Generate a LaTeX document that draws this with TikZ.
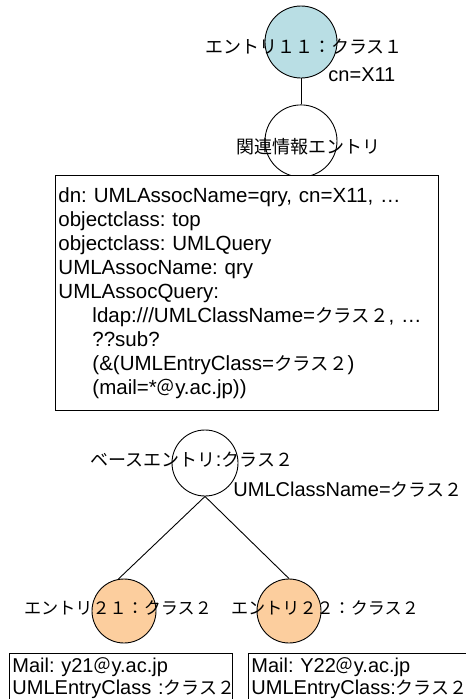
\documentclass[tikz,border=0pt]{standalone}
\usepackage{fontspec}
\setmainfont{Liberation Sans}
\newfontfamily\jp[Scale=0.9]{Noto Sans CJK JP}
\usetikzlibrary{positioning}
\definecolor{tealentry}{RGB}{185,222,228}
\definecolor{orangeentry}{RGB}{252,206,158}
\frenchspacing

\begin{document}
\begin{tikzpicture}[x=1pt, y=-1pt, line width=0.9pt,
      entry/.style={circle, draw, minimum size=72pt, inner sep=0pt},
      tag/.style={inner sep=0pt, font=\fontsize{20}{24}\selectfont},
      attrbox/.style={draw, fill=white, align=left, anchor=north west,
                      inner xsep=3pt, font=\fontsize{20.5}{24}\selectfont}]
    \useasboundingbox (0,0) rectangle (466,699);
    \clip (0,0) rectangle (466,699);

    % entries
    \node[entry, fill=tealentry] (E11) at (301,42) {};
    \node[entry, below=26pt of E11] (Rel) {};
    \node[entry, minimum size=66pt] (Base) at (205,463) {};
    \node[entry, minimum size=64pt, fill=orangeentry] (E21) at (124,611) {};
    \node[entry, minimum size=64pt, fill=orangeentry] (E22) at (289,611) {};

    \draw (E11) -- (Rel);
    \draw (Base.south) -- (E21.100);
    \draw (Base.south) -- (E22.north);

    % attribute boxes
    \node[attrbox, minimum width=383pt, minimum height=235pt, text width=377pt]
        (Query) at (55,175) {dn: UMLAssocName=qry, cn=X11, …\\
        objectclass: top\\
        objectclass: UMLQuery\\
        UMLAssocName: qry\\
        UMLAssocQuery:\\
        \hspace*{34pt}ldap:///UMLClassName={\jp クラス２}, …\\
        \hspace*{34pt}??sub?\\
        \hspace*{34pt}(\&(UMLEntryClass={\jp クラス２})\\
        \hspace*{34pt}(mail=*{\jp ＠}y.ac.jp))};
    \node[attrbox, minimum width=223pt, text width=217pt, inner ysep=4pt,
          font=\fontsize{20}{22}\selectfont]
        (M21) at (9,653) {Mail: y21{\jp ＠}y.ac.jp\\UMLEntryClass~:{\jp クラス２}\\[6pt]};
    \node[attrbox, minimum width=240pt, text width=234pt, inner ysep=4pt,
          font=\fontsize{20}{22}\selectfont]
        (M22) at (248,653) {Mail: Y22{\jp ＠}y.ac.jp\\UMLEntryClass:{\jp クラス２}\\[6pt]};

    % labels
    \node[tag] (L11) at (304,47) {\jp エントリ１１：クラス１};
    \node[tag, anchor=west] (Lcn) at (328,75) {cn=X11};
    \node[tag] (LRel) at (308,147) {\jp 関連情報エントリ};
    \node[tag] (LBase) at (192,460) {{\jp ベースエントリ}:{\jp クラス２}};
    \node[tag, anchor=west] (LClass) at (233,490) {UMLClassName={\jp クラス２}};
    \node[tag, font=\fontsize{19}{22}\selectfont] (L21) at (118,608) {\jp エントリ２１：クラス２};
    \node[tag, font=\fontsize{19}{22}\selectfont] (L22) at (325,608) {\jp エントリ２２：クラス２};
\end{tikzpicture}
\end{document}
